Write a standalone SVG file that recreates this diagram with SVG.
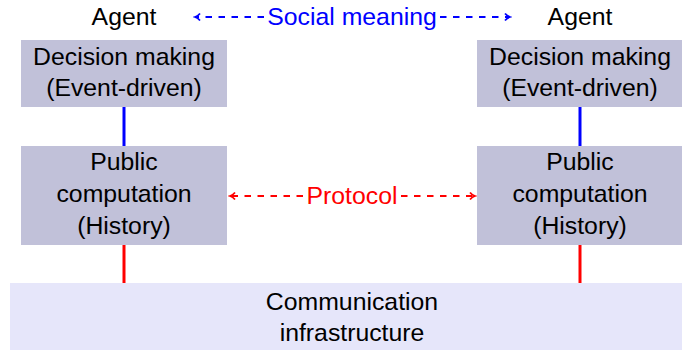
<svg xmlns="http://www.w3.org/2000/svg" width="682" height="350" viewBox="0 0 682 350">
<defs>
<style>
text{font-family:"Liberation Sans","DejaVu Sans",sans-serif;font-size:24.8px;text-anchor:middle;fill:#000}
.box{fill:#c1c1d9}
.comm{fill:#e6e6fa}
.blue{stroke:#0000ff;fill:none}
.red{stroke:#ff0000;fill:none}
.dash{stroke-width:1.8;stroke-dasharray:6.5 6.5}
.solid{stroke-width:3}
</style>
<marker id="ab" viewBox="0 0 10 10" refX="8" refY="5" markerWidth="10" markerHeight="10" markerUnits="userSpaceOnUse" orient="auto-start-reverse"><path d="M3,1.5 Q5,4 8,5 Q5,6 3,8.5" fill="none" stroke="#0000ff" stroke-width="1.8"/></marker>
<marker id="ar" viewBox="0 0 10 10" refX="8" refY="5" markerWidth="10" markerHeight="10" markerUnits="userSpaceOnUse" orient="auto-start-reverse"><path d="M3,1.5 Q5,4 8,5 Q5,6 3,8.5" fill="none" stroke="#ff0000" stroke-width="1.8"/></marker>
</defs>
<rect width="682" height="350" fill="#fff"/>
<g id="comm">
<rect class="comm" x="10" y="283" width="672" height="67"/>
<text x="352" y="310">Communication</text>
<text x="352" y="341">infrastructure</text>
</g>
<g id="agentL"><text x="124" y="25">Agent</text></g>
<g id="agentR"><text x="580" y="25">Agent</text></g>
<g id="decL">
<rect class="box" x="21" y="40" width="206" height="67"/>
<text x="124" y="65">Decision making</text>
<text x="124" y="96">(Event-driven)</text>
</g>
<g id="decR">
<rect class="box" x="477" y="40" width="206" height="67"/>
<text x="580" y="65">Decision making</text>
<text x="580" y="96">(Event-driven)</text>
</g>
<g id="pubL">
<rect class="box" x="21" y="146" width="206" height="99"/>
<text x="124" y="170">Public</text>
<text x="124" y="202">computation</text>
<text x="124" y="234">(History)</text>
</g>
<g id="pubR">
<rect class="box" x="477" y="146" width="206" height="99"/>
<text x="580" y="170">Public</text>
<text x="580" y="202">computation</text>
<text x="580" y="234">(History)</text>
</g>
<g id="connectors">
<line class="blue solid" x1="124" y1="107" x2="124" y2="146"/>
<line class="blue solid" x1="580" y1="107" x2="580" y2="146"/>
<line class="red solid" x1="124" y1="245" x2="124" y2="283"/>
<line class="red solid" x1="580" y1="245" x2="580" y2="283"/>
<line class="blue dash" x1="264" y1="17" x2="195" y2="17" marker-end="url(#ab)"/>
<line class="blue dash" x1="440" y1="17" x2="510" y2="17" marker-end="url(#ab)"/>
<line class="red dash" x1="303" y1="196" x2="230" y2="196" marker-end="url(#ar)"/>
<line class="red dash" x1="401" y1="196" x2="475" y2="196" marker-end="url(#ar)"/>
<text x="352" y="25" style="fill:#0000ff">Social meaning</text>
<text x="352" y="204" style="fill:#ff0000">Protocol</text>
</g>
</svg>
